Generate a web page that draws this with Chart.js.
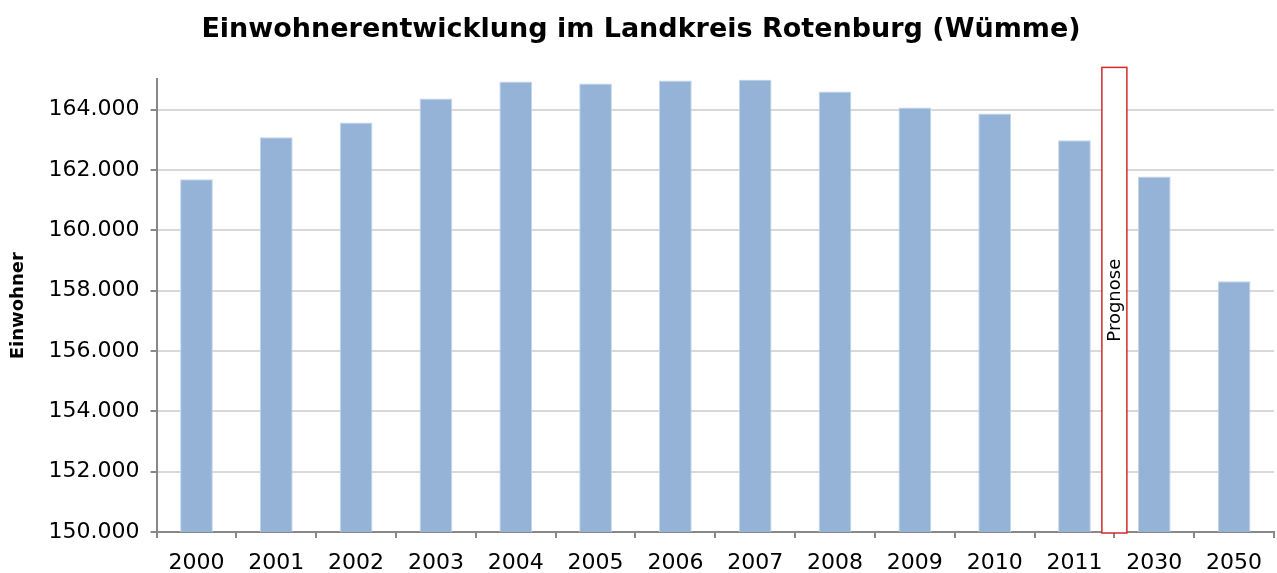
<!DOCTYPE html>
<html lang="de">
<head>
<meta charset="utf-8">
<title>Einwohnerentwicklung Landkreis Rotenburg (Wümme)</title>
<script src="https://cdn.jsdelivr.net/npm/chart.js@4/dist/chart.umd.min.js"></script>
<style>
  html, body { margin: 0; padding: 0; background: #fff; }
  #wrap { width: 1277px; height: 573px; }
</style>
</head>
<body>
<div id="wrap"><canvas id="myChart"></canvas></div>
<script>
// Werte
const years = ["2000", "2001", "2002", "2003", "2004", "2005", "2006",
    "2007", "2008", "2009", "2010", "2011", "2030", "2050"];
const einwohner = [161690, 163080, 163570, 164370, 164930, 164860, 164960,
    165000, 164600, 164070, 163870, 162980, 161780, 158310];
const yTicks = [150000, 152000, 154000, 156000, 158000, 160000, 162000, 164000];
const yMin = 150000;
const yMax = 165000;
const prognoseLabel = "Prognose";
const prognoseAfter = 11; // Box zwischen 2011 und 2030

const fontFamily = "'DejaVu Sans', sans-serif";

function formatDE(v) {
    return String(Math.round(v)).replace(/\B(?=(\d{3})+(?!\d))/g, ".");
}

// Rote Prognose-Box über die Kategoriegrenze zeichnen
const prognosePlugin = {
    id: "prognose",
    afterDraw(chart) {
        const c = chart.ctx;
        const x = chart.scales.x;
        const area = chart.chartArea;
        const mid = (x.getPixelForValue(prognoseAfter) + x.getPixelForValue(prognoseAfter + 1)) / 2;
        const w = 25;
        const top = area.top - 12;
        const bottom = area.bottom + 1;
        c.save();
        c.fillStyle = "#fff";
        c.fillRect(mid - w / 2, top, w, bottom - top);
        c.strokeStyle = "#D42A2A";
        c.lineWidth = 1.5;
        c.strokeRect(mid - w / 2, top, w, bottom - top);
        c.translate(mid + 1, (top + bottom) / 2);
        c.rotate(-Math.PI / 2);
        c.fillStyle = "#000";
        c.font = "18px " + fontFamily;
        c.textAlign = "center";
        c.textBaseline = "middle";
        c.fillText(prognoseLabel, 0, 0);
        c.restore();
    }
};

const ctx = document.getElementById("myChart").getContext("2d");

const myChart = new Chart(ctx, {
    type: "bar",
    data: {
        labels: years,
        datasets: [{
            label: "Einwohner",
            data: einwohner,
            backgroundColor: "#95B3D7",
            borderColor: "#C3D5EA",
            borderWidth: 1,
            categoryPercentage: 1,
            barPercentage: 0.41,
        }],
    },
    options: {
        responsive: true,
        maintainAspectRatio: false,
        animation: false,
        layout: { padding: { left: 8, right: 3, top: 6, bottom: 0 } },
        plugins: {
            legend: { display: false },
            tooltip: { enabled: false },
            title: {
                display: true,
                text: "Einwohnerentwicklung im Landkreis Rotenburg (Wümme)",
                color: "#000",
                font: { family: fontFamily, size: 27, weight: "bold" },
                padding: { top: 8, bottom: 33 },
            },
        },
        scales: {
            x: {
                offset: true,
                afterFit: (scale) => {
                    scale.height = 41;
                },
                grid: {
                    offset: true,
                    drawOnChartArea: false,
                    color: "#888",
                    lineWidth: 2,
                    tickLength: 6,
                },
                border: { color: "#888", width: 2 },
                ticks: {
                    color: "#000",
                    font: { family: fontFamily, size: 22 },
                    padding: 12,
                    maxRotation: 0,
                },
            },
            y: {
                min: yMin,
                max: yMax,
                afterBuildTicks: (axis) => {
                    axis.ticks = yTicks.map((v) => ({ value: v }));
                },
                grid: {
                    color: "#D9D9D9",
                    lineWidth: 2,
                    tickColor: "#888",
                    tickLength: 6,
                },
                border: { color: "#888", width: 2 },
                ticks: {
                    color: "#000",
                    font: { family: fontFamily, size: 22 },
                    padding: 11,
                    callback: (v) => formatDE(v),
                },
                title: {
                    display: true,
                    text: "Einwohner",
                    color: "#000",
                    font: { family: fontFamily, size: 18, weight: "bold" },
                    padding: { top: 0, bottom: 8 },
                },
            },
        },
    },
    plugins: [prognosePlugin],
});
</script>
</body>
</html>
